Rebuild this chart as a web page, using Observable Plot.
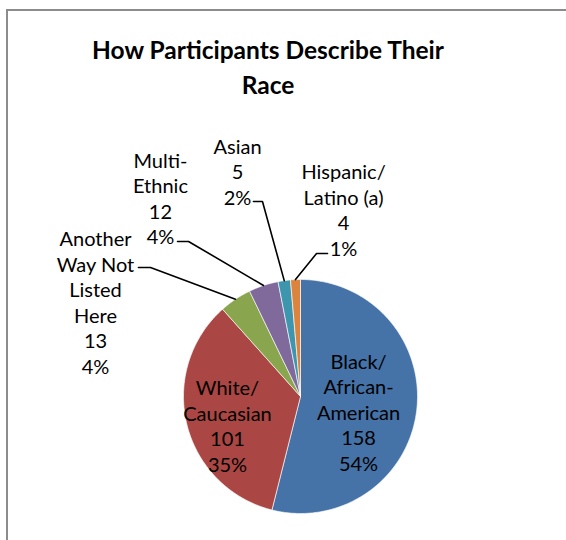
<!DOCTYPE html>
<html>
<head>
<meta charset="utf-8">
<script src="https://cdn.jsdelivr.net/npm/d3@7"></script>
<script src="https://cdn.jsdelivr.net/npm/@observablehq/plot@0.6"></script>
<style>
  html, body { margin: 0; padding: 0; background: #fff; }
  body { width: 566px; height: 540px; overflow: hidden; position: relative; font-family: Lato, "Open Sans", sans-serif; }
  #frame { position: absolute; left: 6px; top: 9px; width: 620px; height: 620px; border: 2px solid #8c8c8c; }
  #title { position: absolute; left: 0; top: 32px; width: 536px; text-align: center; font-weight: bold; font-size: 24.5px; line-height: 35px; color: #000; }
  #chart { position: absolute; left: 0; top: 100px; }
</style>
</head>
<body>
<div id="frame"></div>
<div id="title">How Participants Describe Their<br>Race</div>
<div id="chart"></div>
<script>
// ---- data ----
const categories = ["Black/\nAfrican-\nAmerican", "White/\nCaucasian", "Another\nWay Not\nListed\nHere", "Multi-\nEthnic", "Asian", "Hispanic/\nLatino (a)"];
const counts = [158, 101, 13, 12, 5, 4];
const percents = [54, 35, 4, 4, 2, 1];
const colors = ["#4572A7", "#AA4643", "#89A54E", "#80699B", "#3D96AE", "#DB843D"];

// ---- layout (pie in unit radius coordinates) ----
const R = 117, W = 566, H = 440, CX = 300, CY = 296;
// label centres (unit coords) and leader elbows (start, elbow) — null for inside labels
const labelLayout = [
  {x: 0.496, y: -0.13, leader: null},
  {x: -0.624, y: -0.248, leader: null},
  {x: -1.752, y: 0.808, leader: [[-1.385, 1.103], [-1.282, 1.103]]},
  {x: -1.197, y: 1.697, leader: [[-1.051, 1.325], [-0.957, 1.325]]},
  {x: -0.538, y: 1.927, leader: [[-0.402, 1.667], [-0.325, 1.667]]},
  {x: 0.368, y: 1.598, leader: [[0.231, 1.222], [0.137, 1.222]]}
];

const arcs = d3.pie().sort(null)(counts);
const pt = (a, r) => ({x: Math.sin(a) * r, y: Math.cos(a) * r});

const slicePts = [];
arcs.forEach((a, i) => {
  const k = categories[i];
  slicePts.push({x: 0, y: 0, k});
  const n = Math.max(4, Math.ceil((a.endAngle - a.startAngle) / 0.01));
  for (let j = 0; j <= n; j++) {
    const t = a.startAngle + (a.endAngle - a.startAngle) * j / n;
    slicePts.push({...pt(t, 1), k});
  }
  slicePts.push({x: 0, y: 0, k});
});

const leaderPts = [];
arcs.forEach((a, i) => {
  const L = labelLayout[i].leader;
  if (!L) return;
  const m = pt((a.startAngle + a.endAngle) / 2, 1);
  leaderPts.push({x: L[0][0], y: L[0][1], k: i});
  leaderPts.push({x: L[1][0], y: L[1][1], k: i});
  leaderPts.push({x: m.x, y: m.y, k: i});
});

const labels = categories.map((c, i) => ({
  x: labelLayout[i].x, y: labelLayout[i].y,
  text: `${c}\n${counts[i]}\n${percents[i]}%`
}));

const chart = Plot.plot({
  width: W, height: H,
  margin: 0,
  style: {fontFamily: "Lato, 'Open Sans', sans-serif", background: "transparent", overflow: "visible"},
  x: {type: "linear", domain: [-CX / R, (W - CX) / R], range: [0, W], axis: null},
  y: {type: "linear", domain: [-(H - CY) / R, CY / R], range: [H, 0], axis: null},
  color: {type: "ordinal", domain: categories, range: colors},
  marks: [
    Plot.line(slicePts, {x: "x", y: "y", z: "k", fill: "k", stroke: "#ffffff", strokeWidth: 0.8, strokeOpacity: 0.8}),
    Plot.line(leaderPts, {x: "x", y: "y", z: "k", stroke: "#000", strokeWidth: 1.6}),
    Plot.text(labels, {x: "x", y: "y", text: "text", fontSize: 20, lineHeight: 1.275, fill: "#000", textAnchor: "middle"})
  ]
});
document.getElementById("chart").appendChild(chart);
</script>
</body>
</html>
